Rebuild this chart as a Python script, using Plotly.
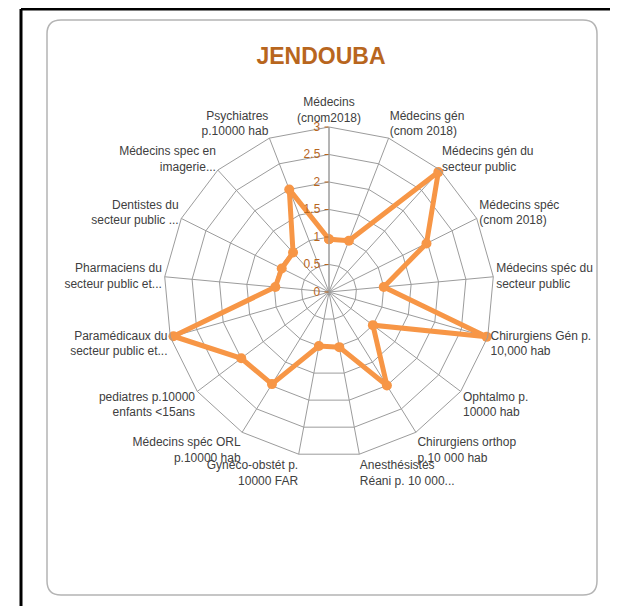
import plotly.graph_objects as go

W, H = 618, 606
OFF = 8  # the page body adds an 8px margin, so shift everything back

categories = [
    "Médecins<br>(cnom2018)",
    "Médecins gén<br>(cnom 2018)",
    "Médecins gén du<br>secteur public",
    "Médecins spéc<br>(cnom 2018)",
    "Médecins spéc du<br>secteur public",
    "Chirurgiens Gén p.<br>10,000 hab",
    "Ophtalmo p.<br>10000 hab",
    "Chirurgiens orthop<br>p.10 000 hab",
    "Anesthésistes<br>Réani p. 10 000...",
    "Gynéco-obstét p.<br>10000 FAR",
    "Médecins spéc ORL<br>p.10000 hab",
    "pediatres p.10000<br>enfants <15ans",
    "Paramédicaux du<br>secteur public et...",
    "Pharmaciens du<br>secteur public et...",
    "Dentistes du<br>secteur public ...",
    "Médecins spec en<br>imagerie...",
    "Psychiatres<br>p.10000 hab",
]
values = [0.96, 1.0, 2.95, 1.98, 1.0, 2.98, 1.0, 2.0, 1.02,
          1.0, 1.97, 2.0, 2.94, 0.98, 0.96, 0.97, 2.0]
radial_ticks = [0, 0.5, 1, 1.5, 2, 2.5, 3]

orange = "#F79646"
brown = "#B8661E"
grid = "#9C9C9C"
font = "Liberation Sans, Arial"


def px(x, y):
    # reference pixel -> paper coordinates (margins are zero)
    return (x - OFF) / W, 1 - (y - OFF) / H


def rounded_rect(x0, y0, x1, y1, r):
    def p(x, y):
        a, b = px(x, y)
        return f"{a:.5f},{b:.5f}"
    parts = [
        "M " + p(x0 + r, y0),
        "L " + p(x1 - r, y0),
        "Q " + p(x1, y0) + " " + p(x1, y0 + r),
        "L " + p(x1, y1 - r),
        "Q " + p(x1, y1) + " " + p(x1 - r, y1),
        "L " + p(x0 + r, y1),
        "Q " + p(x0, y1) + " " + p(x0, y1 - r),
        "L " + p(x0, y0 + r),
        "Q " + p(x0, y0) + " " + p(x0 + r, y0),
    ]
    return " ".join(parts) + " Z"


fig = go.Figure()
fig.add_trace(go.Scatterpolar(
    r=values + values[:1],
    theta=categories + categories[:1],
    mode="lines+markers",
    line=dict(color=orange, width=5),
    marker=dict(color=orange, size=10),
    showlegend=False,
))

cx, cy, R = 329, 292, 165
x0, y0 = px(cx - R, cy + R)
x1, y1 = px(cx + R, cy - R)
tx, ty = px(321, 56)

fig.update_layout(
    width=W, height=H,
    margin=dict(l=0, r=0, t=0, b=0),
    paper_bgcolor="white",
    title=dict(text="<b>JENDOUBA</b>", x=tx, y=ty,
               xanchor="center", yanchor="middle",
               font=dict(family=font, size=23, color=brown)),
    polar=dict(
        domain=dict(x=[x0, x1], y=[y0, y1]),
        bgcolor="white",
        gridshape="linear",
        angularaxis=dict(
            rotation=90, direction="clockwise",
            showline=True, linecolor=grid, linewidth=1,
            gridcolor=grid, gridwidth=1,
            ticks="", tickfont=dict(family=font, size=12, color="#404040"),
        ),
        radialaxis=dict(
            range=[0, 3], angle=90, side="counterclockwise", tickangle=90,
            tickvals=radial_ticks, ticktext=[f"{v:g}" for v in radial_ticks],
            showline=True, linecolor=grid, linewidth=1,
            gridcolor=grid, gridwidth=1,
            ticks="outside", ticklen=4, tickcolor=brown,
            tickfont=dict(family=font, size=12, color=brown),
        ),
    ),
)

# chart area border with rounded corners
fig.add_shape(type="path", xref="paper", yref="paper",
              path=rounded_rect(47, 20, 597, 595, 14),
              line=dict(color="#B4B4B4", width=1.5), layer="below")

# black frame around the screenshot
for (ax, ay, bx, by) in [(21, 9, 615, 9), (21, 9, 21, 620), (615, 9, 615, 620)]:
    a = px(ax, ay)
    b = px(bx, by)
    fig.add_shape(type="line", xref="paper", yref="paper",
                  x0=a[0], y0=a[1], x1=b[0], y1=b[1],
                  line=dict(color="black", width=3))

fig.write_html("out.html")
